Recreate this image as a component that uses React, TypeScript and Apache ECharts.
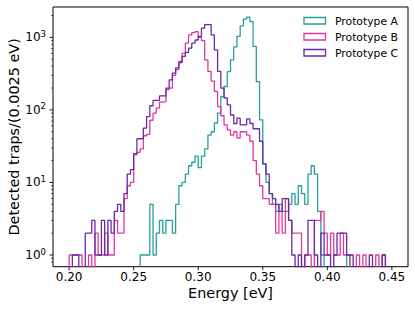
import React, { useEffect, useRef } from 'react';
import * as echarts from 'echarts';

const BIN_START = 0.2;
const BIN_WIDTH = 0.0025;
const X_MIN = 0.1875;
const X_MAX = 0.4625;
const Y_MIN = 0.69;
const Y_MAX = 2620;
const FLOOR = 0.1;

const seriesNames = ['Prototype A', 'Prototype B', 'Prototype C'];
const colors = ['#26a09b', '#e0389e', '#6a2aa6'];

const protoA = [
  0, 0, 0, 0, 0, 0, 0, 0, 0, 0,
  0, 0, 0, 0, 0, 0, 0, 0, 0, 0,
  0, 0, 1, 1, 1, 5, 1, 2, 3, 2,
  3, 3, 2, 5, 9, 10, 13, 17, 19, 23,
  16, 23, 29, 45, 50, 66, 90, 153, 210, 337,
  490, 740, 1030, 1440, 1780, 1900, 1650, 750, 245, 73,
  18, 10, 7, 5, 4, 5, 4, 4, 5, 7,
  5, 9, 7, 5, 13, 17, 13, 4, 1, 0,
  0, 0, 0, 0, 0, 0, 1, 0, 0, 0,
  0, 0, 0, 0, 0, 0, 0, 0, 0, 0,
];

const protoB = [
  1, 1, 1, 1, 0, 0, 1, 0, 2, 1,
  1, 2, 1, 1, 3, 2, 2, 6, 9, 10,
  24, 26, 29, 44, 46, 72, 90, 106, 128, 130,
  190, 200, 300, 360, 465, 600, 830, 1080, 1160, 1200,
  1000, 900, 490, 340, 250, 180, 111, 83, 62, 53,
  45, 50, 41, 50, 50, 45, 37, 20, 13, 9,
  6, 6, 5, 5, 2, 4, 2, 6, 3, 2,
  2, 2, 0, 1, 1, 0, 3, 3, 4, 2,
  1, 2, 1, 1, 2, 1, 1, 0, 0, 1,
  0, 1, 0, 0, 0, 1, 0, 1, 0, 0,
];

const protoC = [
  0, 1, 1, 0, 0, 2, 2, 3, 1, 1,
  3, 1, 3, 2, 4, 5, 4, 7, 13, 15,
  25, 40, 40, 56, 81, 114, 135, 135, 156, 156,
  200, 260, 321, 380, 450, 545, 620, 710, 830, 920,
  1030, 1340, 1500, 1500, 1080, 670, 340, 200, 146, 117,
  85, 65, 77, 62, 62, 75, 65, 55, 55, 37,
  18, 13, 7, 6, 5, 4, 6, 6, 3, 1,
  0, 1, 0, 1, 3, 3, 1, 0, 2, 1,
  1, 0, 1, 2, 2, 2, 1, 1, 0, 0,
  0, 0, 0, 1, 0, 0, 0, 1, 0, 0,
];

const xTickValues = [0.2, 0.25, 0.3, 0.35, 0.4, 0.45];
const yMajorTicks = [1, 10, 100, 1000];
const yMinorTicks = [
  0.8, 0.9,
  2, 3, 4, 5, 6, 7, 8, 9,
  20, 30, 40, 50, 60, 70, 80, 90,
  200, 300, 400, 500, 600, 700, 800, 900,
  2000,
];

const FONT = 'DejaVu Sans';

function buildStep(counts: number[]): number[][] {
  const pts: number[][] = [[BIN_START, FLOOR]];
  counts.forEach((c, i) => {
    const edge = +(BIN_START + i * BIN_WIDTH).toFixed(5);
    pts.push([edge, c > 0 ? c : FLOOR]);
  });
  pts.push([+(BIN_START + counts.length * BIN_WIDTH).toFixed(5), FLOOR]);
  return pts;
}

function tickSeries(data: number[][], dir: 'x' | 'y', len: number, width: number) {
  return {
    type: 'custom',
    coordinateSystem: 'cartesian2d',
    clip: false,
    silent: true,
    z: 10,
    data,
    renderItem: (_params: any, api: any) => {
      const p = api.coord([api.value(0), api.value(1)]);
      const shape =
        dir === 'x'
          ? { x1: p[0], y1: p[1], x2: p[0], y2: p[1] + len }
          : { x1: p[0] - len, y1: p[1], x2: p[0], y2: p[1] };
      return { type: 'line', shape, style: { stroke: '#000', lineWidth: width } };
    },
  };
}

export default function App() {
  const ref = useRef<HTMLDivElement>(null);

  useEffect(() => {
    if (!ref.current) return;
    const chart = echarts.init(ref.current, null, { renderer: 'svg' });
    const allCounts = [protoA, protoB, protoC];

    const option: any = {
      animation: false,
      backgroundColor: '#fff',
      grid: {
        left: 53,
        top: 7,
        width: 355,
        height: 259.7,
        containLabel: false,
        outerBoundsMode: 'none',
        show: true,
        borderColor: '#000',
        borderWidth: 1,
        backgroundColor: 'transparent',
      },
      xAxis: {
        type: 'value',
        min: X_MIN,
        max: X_MAX,
        name: 'Energy [eV]',
        nameLocation: 'middle',
        nameGap: 19,
        nameMoveOverlap: false,
        nameTextStyle: { fontFamily: FONT, fontSize: 14.4, color: '#000' },
        axisLine: { show: false },
        axisTick: { show: false },
        splitLine: { show: false },
        axisLabel: {
          showMinLabel: false,
          showMaxLabel: false,
          margin: 4,
          fontFamily: FONT,
          fontSize: 12,
          color: '#000',
          formatter: (v: number) => v.toFixed(2),
        },
      },
      yAxis: {
        type: 'log',
        logBase: 10,
        min: Y_MIN,
        max: Y_MAX,
        name: 'Detected traps/(0.0025 eV)',
        nameLocation: 'middle',
        nameGap: 32,
        nameMoveOverlap: false,
        nameTextStyle: { fontFamily: FONT, fontSize: 14.4, color: '#000' },
        axisLine: { show: false },
        axisTick: { show: false },
        splitLine: { show: false },
        minorTick: { show: false },
        axisLabel: {
          showMinLabel: false,
          showMaxLabel: false,
          margin: 7,
          color: '#000',
          formatter: (v: number) => {
            const e = Math.round(Math.log10(v));
            return `{b|10}{s|${e}}`;
          },
          rich: {
            b: { fontFamily: FONT, fontSize: 12, color: '#000' },
            s: { fontFamily: FONT, fontSize: 8.5, color: '#000', verticalAlign: 'top', padding: [0, 0, 7, 0] },
          },
        },
      },
      series: [
        ...allCounts.map((counts, i) => ({
          type: 'line',
          name: seriesNames[i],
          step: 'end',
          symbol: 'none',
          showSymbol: false,
          clip: true,
          z: 2 + i,
          lineStyle: { color: colors[i], width: 1.3 },
          itemStyle: { color: colors[i] },
          data: buildStep(counts),
        })),
        tickSeries(xTickValues.map((v) => [v, Y_MIN]), 'x', 3.5, 0.9),
        tickSeries(yMajorTicks.map((v) => [X_MIN, v]), 'y', 3.5, 0.9),
        tickSeries(yMinorTicks.map((v) => [X_MIN, v]), 'y', 2, 0.6),
      ],
      graphic: seriesNames.flatMap((name, i) => [
        {
          type: 'rect',
          shape: { x: 304, y: 17.5 + 16 * i, width: 21.5, height: 6.5 },
          style: { fill: 'none', stroke: colors[i], lineWidth: 1.3 },
        },
        {
          type: 'text',
          x: 335,
          y: 21 + 16 * i,
          style: {
            text: name,
            fontFamily: FONT,
            fontSize: 10.8,
            fill: '#000',
            verticalAlign: 'middle',
            align: 'left',
          },
        },
      ]),
    };

    chart.setOption(option);
    return () => chart.dispose();
  }, []);

  return (
    <div
      ref={ref}
      style={{ position: 'fixed', left: 0, top: 0, width: 415, height: 310, background: '#fff' }}
    />
  );
}
